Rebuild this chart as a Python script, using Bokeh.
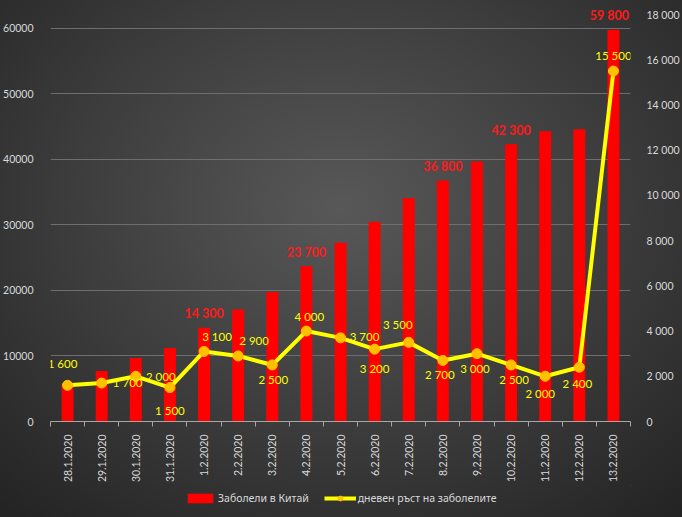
import numpy as np
from bokeh.plotting import figure
from bokeh.layouts import column
from bokeh.models import (ColumnDataSource, Range1d, LinearAxis, FixedTicker,
                          Legend, LegendItem)
from bokeh.core.properties import value
from bokeh.embed import file_html
from bokeh.resources import INLINE

# ---------------- data ----------------
dates = ["28.1.2020", "29.1.2020", "30.1.2020", "31.1.2020", "1.2.2020",
         "2.2.2020", "3.2.2020", "4.2.2020", "5.2.2020", "6.2.2020",
         "7.2.2020", "8.2.2020", "9.2.2020", "10.2.2020", "11.2.2020",
         "12.2.2020", "13.2.2020"]
cases = [5800, 7700, 9700, 11200, 14300, 17100, 19750, 23700, 27300, 30500,
         34100, 36800, 39700, 42300, 44300, 44600, 59800]
daily = [1600, 1700, 2000, 1500, 3100, 2900, 2500, 4000, 3700, 3200,
         3500, 2700, 3000, 2500, 2000, 2400, 15500]
labelled_cases = [4, 7, 11, 13, 16]          # bars whose value is printed
left_ticks = [0, 10000, 20000, 30000, 40000, 50000, 60000]
right_ticks = [0, 2000, 4000, 6000, 8000, 10000, 12000, 14000, 16000, 18000]
series_names = ["Заболели в Китай", "дневен ръст на заболелите"]

# ------------- styling (label offsets in screen px) -------------
daily_dx = [-5, 26, 25, 0, 13, 16, 1, 3, 24, 0, -11, -3, -2, 3, -5, -2, 0]
daily_dy = [-22, -1, 0, 23, -15, -15, 15, -15, -1, 19, -18, 14, 15, 15, 17, 16, -16]
cases_dx = [0, 0, 0, 0, -4]

def sp(v):
    return f"{v:,}".replace(",", " ")

n = len(dates)
xs = [i + 0.5 for i in range(n)]

FONT = "Lato, 'Noto Sans', sans-serif"
GRAY = "#d9d9d9"
RED = "#ff0000"
YELLOW = "#ffff00"
GOLD = "#ffc000"

p = figure(width=682, height=485, output_backend="svg", toolbar_location=None,
           x_range=Range1d(0, n), y_range=Range1d(0, 64260),
           min_border_left=50, min_border_right=52, min_border_top=0,
           min_border_bottom=63)
p.extra_y_ranges = {"daily": Range1d(0, 18620)}

p.border_fill_color = None
p.background_fill_color = None
p.outline_line_color = None

# bars
bar_src = ColumnDataSource(dict(x=xs, top=cases))
p.vbar(x="x", top="top", width=0.35, source=bar_src,
       fill_color=RED, line_color=None)

# line + markers
line_src = ColumnDataSource(dict(x=xs, y=daily, lab=[sp(v) for v in daily],
                                 dx=daily_dx, dy=daily_dy))
p.line("x", "y", source=line_src, y_range_name="daily",
       line_color=YELLOW, line_width=4)
p.scatter("x", "y", source=line_src, y_range_name="daily", size=10,
          fill_color=GOLD, line_color=GOLD)

# labels for the daily series
p.text("x", "y", text="lab", source=line_src, y_range_name="daily",
       x_offset="dx", y_offset="dy", text_align="center",
       text_baseline="middle", text_color=YELLOW,
       text_font=value("Lato"), text_font_size="11.5px")

# labels for selected bars
hl_src = ColumnDataSource(dict(x=[xs[i] for i in labelled_cases],
                               y=[cases[i] for i in labelled_cases],
                               lab=[sp(cases[i]) for i in labelled_cases],
                               dx=cases_dx))
p.text("x", "y", text="lab", source=hl_src, x_offset="dx", y_offset=-14,
       text_align="center", text_baseline="middle", text_color="#ff1a1a",
       text_font=value("Lato"), text_font_style="bold", text_font_size="12.5px")

# grid
p.xgrid.visible = False
p.ygrid.ticker = FixedTicker(ticks=left_ticks)
p.ygrid.grid_line_color = "#6e6e6e"
p.ygrid.grid_line_width = 1

# left axis
ya = p.yaxis[0]
ya.ticker = FixedTicker(ticks=left_ticks)
ya.axis_line_color = None
ya.major_tick_line_color = None
ya.minor_tick_line_color = None
ya.major_label_standoff = 11
ya.major_label_text_color = GRAY
ya.major_label_text_font = FONT
ya.major_label_text_font_size = "10.5px"
ya.major_label_overrides = {v: str(v) for v in left_ticks}

# right axis
ra = LinearAxis(y_range_name="daily", ticker=FixedTicker(ticks=right_ticks))
ra.axis_line_color = None
ra.major_tick_line_color = None
ra.minor_tick_line_color = None
ra.major_label_standoff = 10
ra.major_label_text_color = GRAY
ra.major_label_text_font = FONT
ra.major_label_text_font_size = "10.5px"
ra.major_label_overrides = {v: sp(v) for v in right_ticks}
p.add_layout(ra, "right")

# bottom axis
xa = p.xaxis[0]
xa.ticker = FixedTicker(ticks=xs, minor_ticks=list(range(n + 1)))
xa.major_label_overrides = {x: d for x, d in zip(xs, dates)}
xa.axis_line_color = "#a6a6a6"
xa.major_tick_line_color = None
xa.major_tick_out = 0
xa.major_tick_in = 0
xa.minor_tick_line_color = "#a6a6a6"
xa.minor_tick_out = 5
xa.minor_tick_in = 0
xa.major_label_orientation = np.pi / 2
xa.major_label_standoff = 8
xa.major_label_text_color = GRAY
xa.major_label_text_font = FONT
xa.major_label_text_font_size = "10.5px"

# ---------------- legend strip ----------------
# same series drawn into a strip whose ranges keep them out of view,
# so only their legend glyphs are visible
lg = figure(width=682, height=32, output_backend="svg", toolbar_location=None,
            x_range=Range1d(-3, -2), y_range=Range1d(-3, -2),
            x_axis_type=None, y_axis_type=None,
            min_border_left=0, min_border_right=0, min_border_top=0,
            min_border_bottom=0)
lg.grid.visible = False
lg.border_fill_color = None
lg.background_fill_color = None
lg.outline_line_color = None
r_bar = lg.vbar(x="x", top="top", width=0.35, source=bar_src,
                fill_color=RED, line_color=None)
r_ln = lg.line("x", "y", source=line_src, line_color=YELLOW, line_width=4)
r_pt = lg.scatter("x", "y", source=line_src, size=8,
                  fill_color=GOLD, line_color=GOLD)
legend = Legend(items=[LegendItem(label=series_names[0], renderers=[r_bar]),
                       LegendItem(label=series_names[1], renderers=[r_ln, r_pt])],
                orientation="horizontal", location=(134, 12),
                glyph_width=32, glyph_height=12, label_standoff=2, spacing=15,
                padding=0, margin=0, background_fill_alpha=0,
                border_line_alpha=0, label_text_color=GRAY,
                label_text_font="'Noto Sans', Lato, sans-serif",
                label_text_font_size="10.5px")
lg.add_layout(legend, "center")

layout = column(p, lg, spacing=0)
layout.styles = {"background": "radial-gradient(ellipse 75% 80% at 50% 40%, #585858 0%, #3e3e3e 50%, #232323 100%)"}

open("out.html", "w").write(file_html(layout, INLINE))
